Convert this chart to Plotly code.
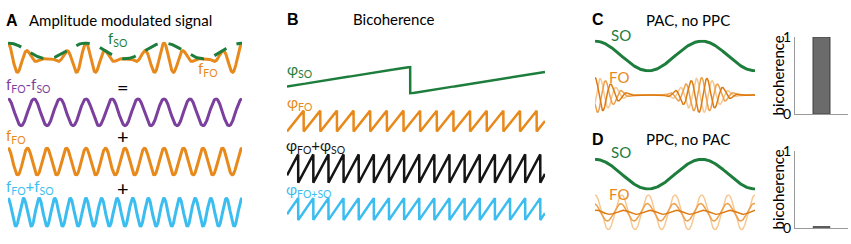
import numpy as np
import plotly.graph_objects as go

W, H = 851, 244
FONT = "Lato, 'Open Sans', sans-serif"
BOLD = "'Liberation Sans', Arial, sans-serif"

GREEN = "#1d7d3c"
ORANGE = "#e8891b"
PURPLE = "#7b3f9e"
CYAN = "#3bbdf0"
BLACK = "#151515"
FO_SHADES = ["#dd7a10", "#eca04c", "#f6c994"]

# ---------------- Panel A: amplitude modulated signal ----------------
A_SO_CYCLES = 3            # slow oscillation cycles across the strip
A_FO_CYCLES = 12           # fast oscillation cycles across the strip
A_COMPONENT_LABELS = ["f<sub>FO</sub>-f<sub>SO</sub>", "f<sub>FO</sub>", "f<sub>FO</sub>+f<sub>SO</sub>"]
A_COMPONENT_CYCLES = [9, 12, 15]
A_COMPONENT_COLORS = [PURPLE, ORANGE, CYAN]
A_OPERATORS = ["=", "+", "+"]

# ---------------- Panel B: bicoherence (phases) ----------------
B_SO_CYCLES = 1.55
B_SO_START = 0.26
B_FO_CYCLES = 15.5
B_FO_START = 0.0
B_LABELS = ["φ<sub>SO</sub>", "φ<sub>FO</sub>", "φ<sub>FO</sub>+φ<sub>SO</sub>", "φ<sub>FO+SO</sub>"]

# ---------------- Panels C / D ----------------
CD_SO_CYCLES = 1.5
C_FO_CYCLES = 10
C_FO_PHASES = [0.0, 2.1, 4.2]
D_FO_CYCLES = 6
D_FO_AMPS = [1.0, 0.5, 0.12]
D_FO_PHASES = [0.0, 0.25, -0.3]
BICOH_CATEGORY = ["bicoherence"]
BICOH_C = [1.0]
BICOH_D = [0.012]

fig = go.Figure()
count = [0]


def new_axes(px0, px1, py0, py1, xr=(0, 1), yr=(-1, 1), lw=0):
    count[0] += 1
    n = count[0]
    s = "" if n == 1 else str(n)
    yr = list(yr)
    if lw:
        span = yr[1] - yr[0]
        extra = span * (lw / 2) / ((py1 - py0) - lw)
        yr = [yr[0] - extra, yr[1] + extra]
    fig.update_layout(**{
        f"xaxis{s}": dict(domain=[px0 / W, px1 / W], range=list(xr), visible=False,
                          anchor=f"y{s}", fixedrange=True),
        f"yaxis{s}": dict(domain=[1 - py1 / H, 1 - py0 / H], range=yr, visible=False,
                          anchor=f"x{s}", fixedrange=True),
    })
    return f"x{s}", f"y{s}"


def line(ax, x, y, color, width, dash=None):
    fig.add_trace(go.Scatter(x=x, y=y, xaxis=ax[0], yaxis=ax[1], mode="lines",
                             line=dict(color=color, width=width, dash=dash),
                             hoverinfo="skip", showlegend=False))


def text(px, py, s, color="black", size=15, xanchor="left", yanchor="middle", family=FONT, angle=0):
    fig.add_annotation(x=px / W, y=1 - py / H, xref="paper", yref="paper", text=s,
                       showarrow=False, xanchor=xanchor, yanchor=yanchor, textangle=angle,
                       font=dict(color=color, size=size, family=family))


t = np.linspace(0, 1, 3000)

# ---- Panel A
env = (1 + np.cos(2 * np.pi * A_SO_CYCLES * t)) / 2
am = env * np.cos(2 * np.pi * A_FO_CYCLES * t)
ax = new_axes(8, 242, 35, 72, lw=3)
line(ax, t, am, ORANGE, 3)
line(ax, t, env, GREEN, 3, dash="14px,11px")

rows_y = [(95, 127), (148, 180), (202, 235)]
for (y0, y1), cyc, col in zip(rows_y, A_COMPONENT_CYCLES, A_COMPONENT_COLORS):
    ax = new_axes(8, 242, y0, y1, lw=3)
    line(ax, t, np.cos(2 * np.pi * cyc * t), col, 3)

text(4, 12, "<b>A</b>", size=16, family=BOLD)
text(27, 12, "Amplitude modulated signal", size=15)
text(106, 32, "f<sub>SO</sub>", GREEN, 15)
text(196, 64, "f<sub>FO</sub>", ORANGE, 15)
label_y = [82, 137, 191]
op_y = [84, 136, 192]
for lab, col, ly, op, oy in zip(A_COMPONENT_LABELS, A_COMPONENT_COLORS, label_y, A_OPERATORS, op_y):
    text(4, ly, lab, col, 15)
    text(123, oy, op, "black", 20, xanchor="center")

# ---- Panel B
def saw(tt, cycles, start):
    return np.mod(start + cycles * tt, 1.0)

tb = np.linspace(0, 1, 6000)
ax = new_axes(287, 545, 61, 92, yr=(0, 1), lw=2.5)
line(ax, tb, saw(tb, B_SO_CYCLES, B_SO_START), GREEN, 2.5)
ax = new_axes(287, 545, 108, 133, yr=(0, 1), lw=2.5)
line(ax, tb, saw(tb, B_FO_CYCLES, B_FO_START), ORANGE, 2.5)
ax = new_axes(287, 545, 155, 188, yr=(0, 1), lw=2.5)
line(ax, tb, saw(tb, B_FO_CYCLES + B_SO_CYCLES, B_FO_START + B_SO_START), BLACK, 2.5)
ax = new_axes(287, 545, 202, 228, yr=(0, 1), lw=2.5)
line(ax, tb, saw(tb, B_FO_CYCLES + B_SO_CYCLES, B_FO_START + B_SO_START), CYAN, 2.5)

text(285, 11, "<b>B</b>", size=16, family=BOLD)
text(351, 11, "Bicoherence", size=15)
text(285, 66, B_LABELS[0], GREEN, 15)
text(285, 101, B_LABELS[1], ORANGE, 15)
text(284, 147, B_LABELS[2], BLACK, 15)
text(284, 195, B_LABELS[3], CYAN, 15)

# ---- Panel C
tc = np.linspace(0, 1, 2000)
so = np.cos(2 * np.pi * CD_SO_CYCLES * tc)
ax = new_axes(595, 755, 33, 68, lw=3)
line(ax, tc, so, GREEN, 3)
ax = new_axes(595, 755, 73, 112, lw=1.5)
c_env = ((1 + so) / 2) ** 2
for ph, col in zip(C_FO_PHASES[::-1], FO_SHADES[::-1]):
    line(ax, tc, c_env * np.cos(2 * np.pi * C_FO_CYCLES * tc + ph), col, 1.5)

text(590, 11, "<b>C</b>", size=16, family=BOLD)
text(644, 12, "PAC, no PPC", size=15)
text(609, 28, "SO", GREEN, 15)
text(607, 73, "FO", ORANGE, 15)

# ---- Panel D
ax = new_axes(595, 755, 160, 195, lw=3)
line(ax, tc, so, GREEN, 3)
ax = new_axes(595, 755, 199, 238, lw=1.5)
for amp, ph, col in zip(D_FO_AMPS, D_FO_PHASES, FO_SHADES[::-1]):
    line(ax, tc, amp * np.cos(2 * np.pi * D_FO_CYCLES * tc + ph), col, 1.5)

text(590, 140, "<b>D</b>", size=16, family=BOLD)
text(644, 140, "PPC, no PAC", size=15)
text(609, 154, "SO", GREEN, 15)
text(607, 199, "FO", ORANGE, 15)

# ---- Bicoherence bars
for (y0, y1), vals in [((30, 113), BICOH_C), ((153, 235), BICOH_D)]:
    count[0] += 1
    n = count[0]
    s = str(n)
    fig.update_layout(**{
        f"xaxis{s}": dict(domain=[795 / W, 848 / W], range=[-1.5, 1.5], anchor=f"y{s}",
                          showline=True, linecolor="#9a9a9a", linewidth=1, showticklabels=False,
                          ticks="", showgrid=False, zeroline=False, fixedrange=True),
        f"yaxis{s}": dict(domain=[1 - y1 / H, 1 - y0 / H], range=[0, 1], anchor=f"x{s}",
                          showline=True, linecolor="#9a9a9a", linewidth=1, ticks="",
                          tickvals=[0, 1], ticktext=["0", "1"], showgrid=False, zeroline=False,
                          tickfont=dict(size=14, family=FONT, color="black"), fixedrange=True),
    })
    fig.add_trace(go.Bar(x=[0], y=vals, width=0.96, xaxis=f"x{s}", yaxis=f"y{s}",
                         marker=dict(color="#6b6b6b", line=dict(color="#3c3c3c", width=1)),
                         hoverinfo="skip", showlegend=False))
    text(778, (y0 + y1) / 2, BICOH_CATEGORY[0], "black", 15, xanchor="center", angle=-90)

fig.update_layout(width=W, height=H, margin=dict(l=0, r=0, t=0, b=0),
                  paper_bgcolor="white", plot_bgcolor="rgba(0,0,0,0)", showlegend=False)
fig.write_html("out.html", config={"displayModeBar": False},
               post_script="document.body.style.margin='0';")
